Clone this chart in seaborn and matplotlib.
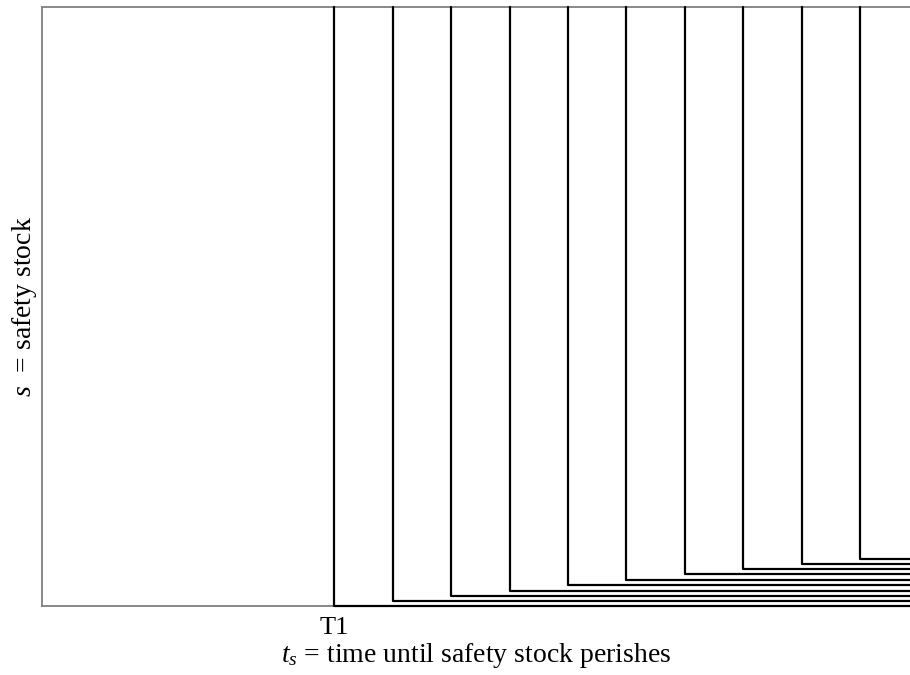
import pandas as pd
import seaborn as sns
import matplotlib.pyplot as plt

# Werte
periods = ["T1", "T2", "T3", "T4", "T5", "T6", "T7", "T8", "T9", "T10"]
t_start = [5, 6, 7, 8, 9, 10, 11, 12, 13, 14]
stock_level = [0, 0.8, 1.7, 2.6, 3.5, 4.4, 5.3, 6.2, 7.0, 7.9]
s_top = 100
t_horizon = 14.85

sns.set_theme(style="white")
plt.rcParams['font.family'] = ['Liberation Serif', 'DejaVu Serif']
plt.rcParams['mathtext.fontset'] = 'custom'
plt.rcParams['mathtext.it'] = 'Liberation Serif:italic'
plt.rcParams['mathtext.rm'] = 'Liberation Serif'

# L-Kurven: senkrecht von oben bis zum Bestand, dann waagerecht bis zum Horizont
rows = []
for p, t, s in zip(periods, t_start, stock_level):
    rows.append({'period': p, 't': t, 's': s_top})
    rows.append({'period': p, 't': t, 's': s})
    rows.append({'period': p, 't': t_horizon, 's': s})
df = pd.DataFrame(rows)

fig = plt.figure(figsize=(9.1, 6.75), dpi=100)
ax = fig.add_axes([0.046, 0.102, 0.954, 0.8876])

sns.lineplot(data=df, x='t', y='s', units='period', estimator=None, sort=False,
             color='black', linewidth=1.6, ax=ax, clip_on=False, zorder=3)

ax.set_xlim(0, t_horizon)
ax.set_ylim(0, s_top)

for side in ['left', 'top', 'bottom']:
    ax.spines[side].set_color('#808080')
    ax.spines[side].set_linewidth(1.3)
ax.spines['right'].set_visible(False)

ax.set_xticks([t_start[0]])
ax.set_xticklabels([periods[0]], fontsize=19, color='black')
ax.set_yticks([])
ax.tick_params(axis='x', length=0, pad=8)

ax.set_xlabel(r'$t_s$ = time until safety stock perishes', fontsize=20, labelpad=1, color='black')
ax.set_ylabel(r'$s$  = safety stock', fontsize=20, labelpad=2, color='black')

plt.savefig('out.png', dpi=100)
